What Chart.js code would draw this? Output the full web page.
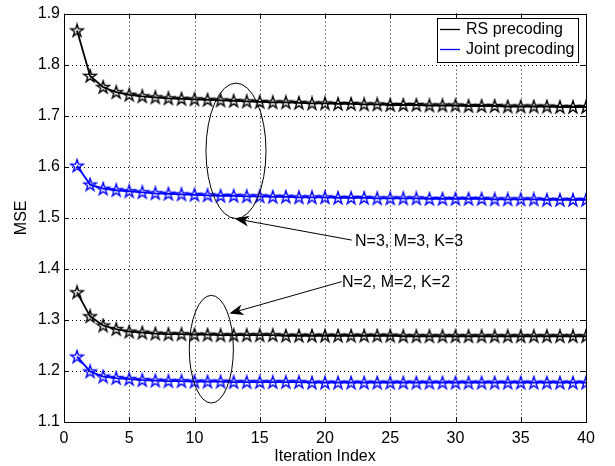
<!DOCTYPE html>
<html>
<head>
<meta charset="utf-8">
<script src="https://cdn.jsdelivr.net/npm/chart.js@4.4.1/dist/chart.umd.min.js"></script>
<style>
html,body{margin:0;padding:0;background:#fff;}
canvas{display:block;}
</style>
</head>
<body>
<canvas id="c" width="615" height="466"></canvas>
<script>
// ---- data ----
const iterations = Array.from({length: 40}, (_, i) => i + 1);
const rsN3 = [1.867,1.778,1.756,1.746,1.741,1.738,1.736,1.734,1.733,1.732,1.731,1.730,1.729,1.728,1.727,1.726,1.726,1.725,1.724,1.724,1.723,1.723,1.722,1.722,1.721,1.721,1.721,1.720,1.720,1.720,1.719,1.719,1.719,1.718,1.718,1.718,1.718,1.717,1.717,1.717];
const jointN3 = [1.602,1.565,1.557,1.554,1.552,1.550,1.548,1.547,1.546,1.545,1.544,1.543,1.543,1.542,1.542,1.541,1.541,1.540,1.540,1.540,1.539,1.539,1.539,1.538,1.538,1.538,1.538,1.537,1.537,1.537,1.537,1.537,1.536,1.536,1.536,1.536,1.535,1.535,1.535,1.535];
const rsN2 = [1.354,1.307,1.289,1.282,1.277,1.275,1.273,1.272,1.272,1.271,1.271,1.270,1.270,1.270,1.270,1.270,1.269,1.269,1.269,1.269,1.269,1.269,1.269,1.269,1.269,1.268,1.268,1.268,1.268,1.268,1.268,1.268,1.268,1.268,1.268,1.268,1.268,1.268,1.268,1.268];
const jointN2 = [1.228,1.199,1.189,1.186,1.184,1.182,1.181,1.180,1.180,1.179,1.179,1.179,1.178,1.178,1.178,1.178,1.178,1.178,1.177,1.177,1.177,1.177,1.177,1.177,1.177,1.177,1.177,1.177,1.177,1.177,1.177,1.177,1.177,1.177,1.177,1.177,1.177,1.177,1.177,1.177];
const seriesLabels = ['RS precoding', 'Joint precoding'];
const xTitle = 'Iteration Index';
const yTitle = 'MSE';
const annotationLabels = ['N=3, M=3, K=3', 'N=2, M=2, K=2'];

const FONT = '"Liberation Sans", Arial, Helvetica, sans-serif';

function makeStar(color) {
  const c = document.createElement('canvas');
  c.width = 16; c.height = 16;
  const g = c.getContext('2d');
  const R = 6.6, r = R * 0.382;
  g.beginPath();
  for (let i = 0; i < 10; i++) {
    const rad = i % 2 === 0 ? R : r;
    const a = -Math.PI / 2 + i * Math.PI / 5;
    const px = 8 + rad * Math.cos(a), py = 8.4 + rad * Math.sin(a);
    if (i === 0) g.moveTo(px, py); else g.lineTo(px, py);
  }
  g.closePath();
  g.lineWidth = 1.4;
  g.strokeStyle = color;
  g.lineJoin = 'miter';
  g.stroke();
  return c;
}
const starBlack = makeStar('#000');
const starBlue = makeStar('#0000ff');

function toXY(arr) { return arr.map((v, i) => ({x: iterations[i], y: v})); }

function ds(label, arr, color, star) {
  return {
    label: label, data: toXY(arr), borderColor: color, backgroundColor: color,
    borderWidth: 1.8, pointStyle: star, pointRadius: 6, pointHoverRadius: 6,
    tension: 0, fill: false
  };
}

const bgPlugin = {
  id: 'bg',
  beforeDraw(chart) {
    const ctx = chart.ctx;
    ctx.save(); ctx.fillStyle = '#fff'; ctx.fillRect(0, 0, chart.width, chart.height); ctx.restore();
  },
  beforeDatasetsDraw(chart) {
    const ctx = chart.ctx, xs = chart.scales.x, ys = chart.scales.y, a = chart.chartArea;
    ctx.save();
    ctx.strokeStyle = '#000'; ctx.lineWidth = 1; ctx.setLineDash([1, 3]);
    ctx.beginPath();
    xs.ticks.forEach(t => {
      if (t.value <= xs.min || t.value >= xs.max) return;
      const px = Math.round(xs.getPixelForValue(t.value)) + 0.5;
      ctx.moveTo(px, a.top); ctx.lineTo(px, a.bottom);
    });
    ys.ticks.forEach(t => {
      if (t.value <= ys.min + 1e-9 || t.value >= ys.max - 1e-9) return;
      const py = Math.round(ys.getPixelForValue(t.value)) + 0.5;
      ctx.moveTo(a.left, py); ctx.lineTo(a.right, py);
    });
    ctx.stroke();
    ctx.restore();
  }
};

function drawArrow(ctx, x1, y1, x2, y2) {
  const ang = Math.atan2(y2 - y1, x2 - x1);
  const L = 14, W = 5.5, N = 10;
  const bx = x2 - N * Math.cos(ang), by = y2 - N * Math.sin(ang);
  ctx.beginPath(); ctx.moveTo(x1, y1); ctx.lineTo(bx, by); ctx.stroke();
  const cx = x2 - L * Math.cos(ang), cy = y2 - L * Math.sin(ang);
  const px = -Math.sin(ang), py = Math.cos(ang);
  ctx.beginPath();
  ctx.moveTo(x2, y2);
  ctx.lineTo(cx + W * px, cy + W * py);
  ctx.lineTo(bx, by);
  ctx.lineTo(cx - W * px, cy - W * py);
  ctx.closePath();
  ctx.fill();
}

const decoPlugin = {
  id: 'deco',
  afterDatasetsDraw(chart) {
    const ctx = chart.ctx, xs = chart.scales.x, ys = chart.scales.y, a = chart.chartArea;
    ctx.save();
    // ellipses
    ctx.strokeStyle = '#000'; ctx.fillStyle = '#000'; ctx.lineWidth = 1;
    const ells = [[13.18, 1.6312, 2.3, 0.1327], [11.29, 1.2426, 1.69, 0.1055]];
    ells.forEach(e => {
      const cx = xs.getPixelForValue(e[0]), cy = ys.getPixelForValue(e[1]);
      const rx = Math.abs(xs.getPixelForValue(e[0] + e[2]) - cx), ry = Math.abs(ys.getPixelForValue(e[1] + e[3]) - cy);
      ctx.beginPath(); ctx.ellipse(cx, cy, rx, ry, 0, 0, Math.PI * 2); ctx.stroke();
    });
    // arrows
    const arrows = [[22.05, 1.4563, 13.1, 1.4983], [21.28, 1.375, 12.67, 1.3125]];
    arrows.forEach(r => drawArrow(ctx, xs.getPixelForValue(r[0]), ys.getPixelForValue(r[1]), xs.getPixelForValue(r[2]), ys.getPixelForValue(r[3])));
    // annotation text
    ctx.font = '16px ' + FONT; ctx.textBaseline = 'middle'; ctx.textAlign = 'left';
    ctx.fillText(annotationLabels[0], xs.getPixelForValue(22.3), ys.getPixelForValue(1.453));
    ctx.fillText(annotationLabels[1], xs.getPixelForValue(21.3), ys.getPixelForValue(1.374));

    // frame and inner ticks
    ctx.lineWidth = 1; ctx.strokeStyle = '#000';
    ctx.strokeRect(Math.round(a.left) + 0.5, Math.round(a.top) + 0.5, Math.round(a.right - a.left), Math.round(a.bottom - a.top));
    const tl = 5;
    ctx.beginPath();
    xs.ticks.forEach(t => {
      const px = Math.round(xs.getPixelForValue(t.value)) + 0.5;
      ctx.moveTo(px, a.bottom); ctx.lineTo(px, a.bottom - tl);
      ctx.moveTo(px, a.top); ctx.lineTo(px, a.top + tl);
    });
    ys.ticks.forEach(t => {
      const py = Math.round(ys.getPixelForValue(t.value)) + 0.5;
      ctx.moveTo(a.left, py); ctx.lineTo(a.left + tl, py);
      ctx.moveTo(a.right, py); ctx.lineTo(a.right - tl, py);
    });
    ctx.stroke();

    // axis titles
    ctx.fillStyle = '#000';
    ctx.font = '16px ' + FONT;
    ctx.textAlign = 'center'; ctx.textBaseline = 'alphabetic';
    ctx.fillText(xTitle, (a.left + a.right) / 2, 461);
    ctx.save();
    ctx.translate(26, (a.top + a.bottom) / 2);
    ctx.rotate(-Math.PI / 2);
    ctx.fillText(yTitle, 0, 0);
    ctx.restore();

    // legend
    const lx = 437, ly = 18, lw = 141, lh = 44;
    ctx.fillStyle = '#fff';
    ctx.fillRect(lx, ly, lw, lh);
    ctx.strokeStyle = '#000'; ctx.lineWidth = 1;
    ctx.strokeRect(lx + 0.5, ly + 0.5, lw, lh);
    const legendColors = ['#000', '#0000ff'];
    const rows = [30, 50];
    seriesLabels.forEach((lab, i) => {
      ctx.strokeStyle = legendColors[i]; ctx.lineWidth = 1.3;
      ctx.beginPath(); ctx.moveTo(lx + 3, rows[i] - 0.5); ctx.lineTo(460, rows[i] - 0.5); ctx.stroke();
      ctx.fillStyle = '#000'; ctx.textAlign = 'left'; ctx.textBaseline = 'middle';
      ctx.fillText(lab, 466, rows[i]);
    });
    ctx.restore();
  }
};

new Chart(document.getElementById('c'), {
  type: 'line',
  data: {
    datasets: [
      ds(seriesLabels[0], rsN3, '#000', starBlack),
      ds(seriesLabels[1], jointN3, '#0000ff', starBlue),
      ds(seriesLabels[0], rsN2, '#000', starBlack),
      ds(seriesLabels[1], jointN2, '#0000ff', starBlue)
    ]
  },
  options: {
    responsive: false,
    devicePixelRatio: 1,
    animation: false,
    layout: {padding: {left: 0, right: 29, top: 10, bottom: 0}},
    plugins: {legend: {display: false}, tooltip: {enabled: false}},
    scales: {
      x: {
        type: 'linear', min: 0, max: 40,
        ticks: {stepSize: 5, padding: 7, color: '#000', font: {family: FONT, size: 16}, maxRotation: 0},
        grid: {display: false, drawTicks: false},
        border: {display: false},
        afterFit(s) { s.height = 44; }
      },
      y: {
        min: 1.1, max: 1.9,
        ticks: {stepSize: 0.1, padding: 4, color: '#000', font: {family: FONT, size: 16},
          callback: v => Number(v).toFixed(1)},
        grid: {display: false, drawTicks: false},
        border: {display: false},
        afterFit(s) { s.width = 64; }
      }
    }
  },
  plugins: [bgPlugin, decoPlugin]
});
</script>
</body>
</html>
